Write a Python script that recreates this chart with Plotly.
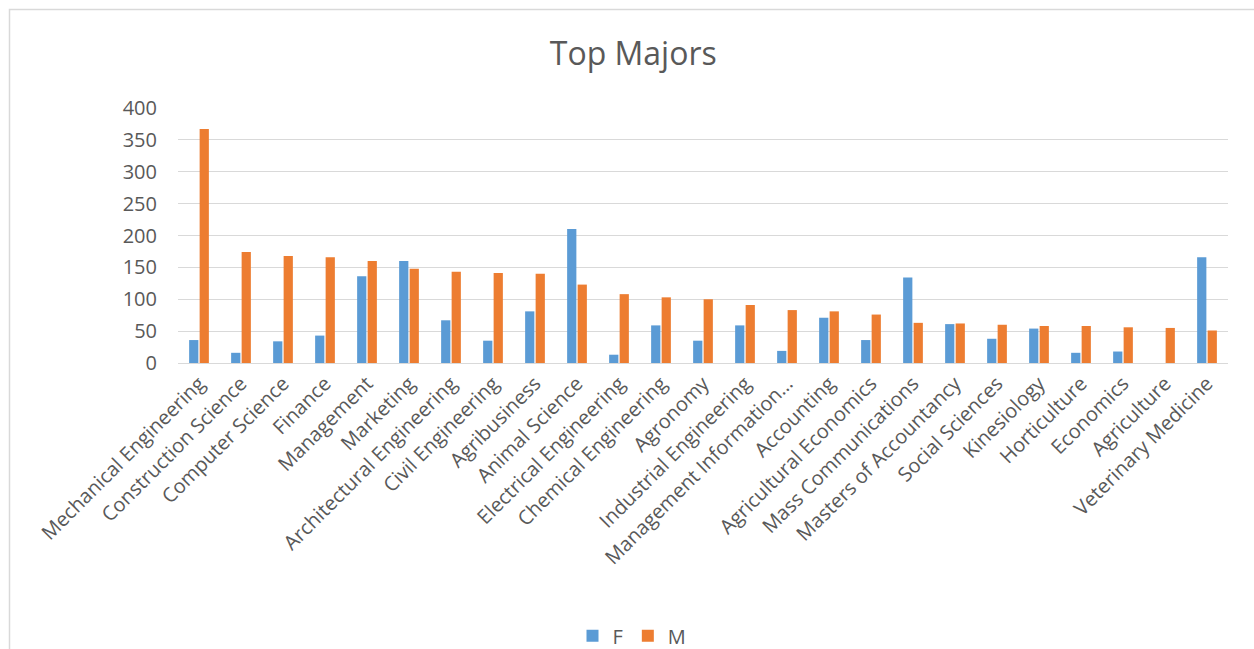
import plotly.graph_objects as go

categories = ["Mechanical Engineering", "Construction Science", "Computer Science", "Finance",
              "Management", "Marketing", "Architectural Engineering", "Civil Engineering",
              "Agribusiness", "Animal Science", "Electrical Engineering", "Chemical Engineering",
              "Agronomy", "Industrial Engineering", "Management Information…", "Accounting",
              "Agricultural Economics", "Mass Communications", "Masters of Accountancy",
              "Social Sciences", "Kinesiology", "Horticulture", "Economics", "Agriculture",
              "Veterinary Medicine"]
female = [36, 16, 34, 43, 136, 160, 67, 35, 81, 210, 13, 59, 35, 59, 19, 71, 36, 134, 61,
          38, 54, 16, 18, None, 166]
male = [367, 174, 168, 166, 160, 148, 143, 141, 140, 123, 108, 103, 100, 91, 83, 81, 76, 63, 62,
        60, 58, 58, 56, 55, 51]
y_ticks = [0, 50, 100, 150, 200, 250, 300, 350, 400]

FONT = "Open Sans"
TXT = "#595959"

fig = go.Figure()
fig.add_trace(go.Bar(name="F", x=categories, y=female, marker_color="#5B9BD5",
                     marker_line_width=0))
fig.add_trace(go.Bar(name="M", x=categories, y=male, marker_color="#ED7D31",
                     marker_line_width=0))

fig.update_layout(
    width=1254, height=649,
    margin=dict(l=178, r=26, t=108, b=286, autoexpand=False),
    paper_bgcolor="white", plot_bgcolor="white",
    barmode="group", bargap=0.5, bargroupgap=0.12,
    font=dict(family=FONT, color=TXT),
    title=dict(text="Top Majors", x=0.505, xanchor="center", y=1 - 54 / 649, yanchor="middle",
               font=dict(size=32, color=TXT, family=FONT)),
    legend=dict(orientation="h", x=(632 - 178) / 1050, xanchor="center", y=-1.07,
                yanchor="middle", font=dict(size=20, color=TXT), itemwidth=30,
                traceorder="normal"),
    shapes=[dict(type="rect", xref="paper", yref="paper",
                 x0=(9.5 - 178) / 1050, x1=(1270 - 178) / 1050,
                 y0=(363 - 670) / 255, y1=1 + (108 - 9.5) / 255,
                 line=dict(color="#d9d9d9", width=1.5), fillcolor="rgba(0,0,0,0)",
                 layer="below")],
)
fig.update_yaxes(range=[0, 400], tickvals=y_ticks, showgrid=True, gridcolor="#d9d9d9",
                 gridwidth=1, zeroline=False, showline=False, ticks="", automargin=False,
                 tickfont=dict(size=20, color=TXT), ticklabelstandoff=20)
fig.update_xaxes(tickangle=-45, showline=True, linecolor="#d9d9d9", linewidth=1, ticks="",
                 automargin=False, tickfont=dict(size=20, color=TXT), showgrid=False)

fig.write_html("out.html")
